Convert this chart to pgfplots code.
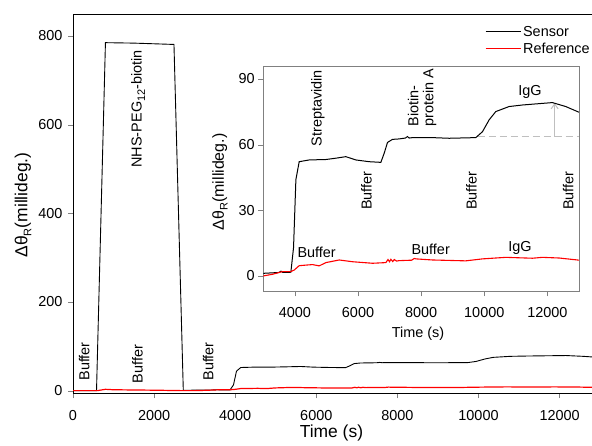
\documentclass[border=0pt]{standalone}
\usepackage{fontspec}
\setmainfont{Liberation Sans}
\usepackage{pgfplots}
\pgfplotsset{compat=1.18}
\usepackage{pgfplotstable}
\usetikzlibrary{arrows.meta}

\pgfplotstableread{
t v
0 0
580 0
800 785
1500 784
2490 781
2720 0.5
3000 1.2
3500 1.6
3560 2.2
3620 1.6
3873 1.7
3958 13
4032 44
4137 52.2
4454 53
4982 53.2
5298 53.8
5615 54.5
5931 53
6353 52.2
6723 51.9
6828 56
6934 61
7092 62.4
7303 62.6
7500 63.0
7567 63.7
7620 63.0
7726 63.2
8359 63.2
8887 62.9
9731 63.2
9942 65.9
10153 71.3
10364 75.1
10786 77.4
11208 78.1
11630 78.6
12158 79.2
12580 77.4
12950 75.1
13000 74.8
}\sensor

\pgfplotstableread{
t v
0 0
600 0
800 3
1000 2
2000 1
2700 0
3000 0
3300 0.8
3610 2.0
3873 2.0
3979 2.7
4137 4.7
4559 5.2
4770 4.6
4982 6.1
5404 7.3
5826 6.5
6459 5.8
6881 6.1
6950 7.5
7000 6.5
7040 7.6
7100 6.6
7150 7.5
7220 6.8
7300 7.0
7700 7.2
7780 8.0
7831 7.8
8359 7.3
9414 6.9
9942 7.8
10681 8.5
11525 8.1
11841 8.5
12369 8.2
12950 7.3
13000 7.2
}\reference

\newcommand{\fs}{\fontsize{14.5}{17}\selectfont}
\newcommand{\lsub}[1]{\raisebox{-0.45ex}{\fontsize{11}{13}\selectfont #1}}

\begin{document}
\begin{tikzpicture}
\begin{axis}[
  at={(73bp,52.7bp)}, anchor=south west,
  scale only axis, width=520bp, height=379bp,
  xmin=0, xmax=12824, ymin=-6, ymax=849,
  xtick={0,2000,...,12000}, ytick={0,200,...,800},
  xtick pos=bottom, ytick pos=left, tick align=outside,
  major tick length=5bp,
  scaled ticks=false,
  /pgf/number format/assume math mode=true,
  /pgf/number format/1000 sep={},
  tick label style={font=\fs},
  xticklabel style={yshift=-9bp},
  yticklabel style={xshift=-2bp},
  xlabel={Time (s)}, ylabel={Δθ\lsub{R}(millideg.)},
  xlabel style={font=\fontsize{17.5}{20}\selectfont, at={(axis description cs:0.497,-0.104)}, anchor=center},
  ylabel style={font=\fontsize{17.5}{20}\selectfont, at={(axis description cs:-0.096,0.497)}, anchor=center},
  legend style={draw=none, fill=none, at={(axis description cs:0.786,0.98)}, anchor=north west, font=\fs, row sep=1bp},
  legend cell align=left,
  legend image code/.code={\draw[#1] (0bp,0bp) -- (35bp,0bp);},
]
\addplot[black, line width=0.9bp] table {\sensor};
\addlegendentry{Sensor}
\addplot[red, line width=1.2bp] table {\reference};
\addlegendentry{Reference}
\node[rotate=90, anchor=base east, font=\fs] at (axis cs:1694,776) {NHS-PEG\lsub{12}-biotin};
\node[rotate=90, anchor=base west, font=\fs] at (axis cs:402,15) {Buffer};
\node[rotate=90, anchor=base west, font=\fs] at (axis cs:1718,9) {Buffer};
\node[rotate=90, anchor=base west, font=\fs] at (axis cs:3460,15) {Buffer};
\end{axis}

\begin{axis}[
  at={(263.3bp,154.5bp)}, anchor=south west,
  scale only axis, width=315.7bp, height=224.8bp,
  xmin=3000, xmax=13000, ymin=-7.1, ymax=95.6,
  xtick={4000,6000,...,12000}, ytick={0,30,60,90},
  xtick pos=bottom, ytick pos=left, tick align=outside,
  major tick length=5bp,
  scaled ticks=false,
  axis line style={gray},
  /pgf/number format/assume math mode=true,
  /pgf/number format/1000 sep={},
  tick label style={font=\fs},
  xticklabel style={yshift=-7bp},
  xlabel={Time (s)}, ylabel={Δθ\lsub{R}(millideg.)},
  xlabel style={font=\fontsize{14.5}{17}\selectfont, at={(axis description cs:0.49,-0.19)}, anchor=center},
  ylabel style={font=\fontsize{16}{19}\selectfont, at={(axis description cs:-0.137,0.488)}, anchor=center},
  axis background/.style={fill=white},
]
\addplot[gray!50, line width=1bp, dash pattern=on 7bp off 4bp] coordinates {(9800,63.5) (13000,63.5)};
\addplot[gray!50, line width=1bp, -{Straight Barb[length=5bp,width=7bp]}] coordinates {(12228,63.5) (12228,79)};
\addplot[black, line width=1bp] table {\sensor};
\addplot[red, line width=1.1bp] table {\reference};
\node[rotate=90, anchor=base west, font=\fs] at (axis cs:4849,57.6) {Streptavidin};
\node[rotate=90, anchor=base west, font=\fs] at (axis cs:6433,28.6) {Buffer};
\node[rotate=90, anchor=base west, font=\fs] at (axis cs:7910,66.7) {Biotin-};
\node[rotate=90, anchor=base west, font=\fs] at (axis cs:8385,66.7) {protein A};
\node[rotate=90, anchor=base west, font=\fs] at (axis cs:9760,28.6) {Buffer};
\node[rotate=90, anchor=base west, font=\fs] at (axis cs:12820,28.6) {Buffer};
\node[font=\fs] at (axis cs:11448,83.9) {IgG};
\node[font=\fs] at (axis cs:4690,10.8) {Buffer};
\node[font=\fs] at (axis cs:8302,12.3) {Buffer};
\node[font=\fs] at (axis cs:11131,12.6) {IgG};
\end{axis}
\pgfresetboundingbox
\useasboundingbox (0,0) rectangle (592bp,446bp);
\end{tikzpicture}
\end{document}
